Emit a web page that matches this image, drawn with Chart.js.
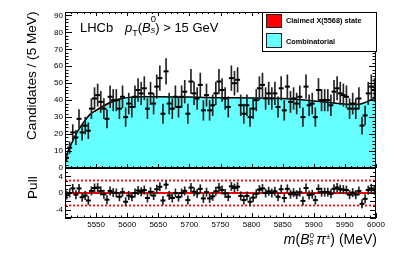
<!DOCTYPE html>
<html>
<head>
<meta charset="utf-8">
<script src="https://cdn.jsdelivr.net/npm/chart.js@4.4.1/dist/chart.umd.min.js"></script>
<style>
  html, body { margin: 0; padding: 0; background: #fff; }
  #wrap { position: relative; width: 399px; height: 257px; overflow: hidden;
          font-family: "Liberation Sans", Arial, sans-serif; color: #000; }
  canvas { position: absolute; left: 0; }
  #topChart { top: 0; }
  #pullChart { top: 160px; }
  .txt { position: absolute; white-space: nowrap; line-height: 1; }
  .rot { transform-origin: 0 0; transform: rotate(-90deg); font-size: 13.6px; }
  .z0 { display: inline-block; width: 0; position: relative; }
  #legend { position: absolute; left: 262px; top: 12px; width: 115px; height: 40px;
            box-sizing: border-box; border: 1px solid #000; background: #fff; }
  #legend .sw { position: absolute; left: 3px; width: 16px; box-sizing: border-box; border: 1px solid #222; }
  #legend .lt { position: absolute; left: 23px; font-size: 7.3px; font-weight: bold; line-height: 1; white-space: nowrap; }
</style>
</head>
<body>
<div id="wrap">
  <canvas id="topChart" width="399" height="175"></canvas>
  <canvas id="pullChart" width="399" height="97"></canvas>

  <div class="txt rot" style="left:25px; top:140px;">Candidates / (5 MeV)</div>
  <div class="txt rot" style="left:26px; top:199px;">Pull</div>

  <div class="txt" style="left:80px; top:20.7px; font-size:13px;">LHCb</div>
  <div class="txt" style="left:125px; top:20.7px; font-size:13px;"><i>p</i><span style="font-size:9px; position:relative; top:4px;">T</span>(<i>B</i><span class="z0" style="font-size:9.5px; top:-10px;">0</span><span style="font-size:9px; position:relative; top:1.5px;"><i>s</i></span>) &gt; 15 GeV</div>

  <div class="txt" style="right:22px; top:232.2px; font-size:14px;"><i>m</i>(<i>B</i><span class="z0" style="font-size:8px; top:-6px;">0</span><span style="font-size:8.5px; position:relative; top:1px;"><i>s</i></span>&#8201;<i>&#960;</i><span style="font-size:8px; position:relative; top:-5px;">&#177;</span>) (MeV)</div>

  <div id="legend">
    <div class="sw" style="top:1px; height:14px; background:#ff0000;"></div>
    <div class="lt" style="top:4.4px;">Claimed X(5568) state</div>
    <div class="sw" style="top:20px; height:15px; background:#66ffff;"></div>
    <div class="lt" style="top:24.9px;">Combinatorial</div>
  </div>
</div>

<script>
// --------- Data ---------
// Candidates per 5 MeV bin, 5500-6000 MeV (100 bins)
const counts = [
  6, 12, 21, 18, 29, 21, 25, 22, 35, 41,
  43, 39, 35, 29, 42, 40, 40, 35, 42, 30,
  38, 36, 42, 46, 44, 47, 35, 44, 38, 48,
  53, 32, 57, 38, 35, 42, 36, 42, 45, 32,
  51, 44, 41, 49, 34, 43, 34, 37, 44, 51,
  46, 41, 36, 53, 50, 52, 37, 32, 37, 30,
  35, 40, 47, 49, 41, 44, 41, 44, 36, 47,
  34, 48, 39, 41, 38, 42, 30, 48, 37, 38,
  30, 46, 40, 40, 40, 37, 45, 47, 44, 43,
  42, 35, 38, 35, 41, 25, 31, 44, 48, 46
];

// Pull per bin (lower panel)
const pulls = [
  -0.5, 0.0, 1.1, -0.4, 1.1, -1.0, -0.6, -1.8, 0.5, 1.2,
  1.3, 0.5, -0.3, -1.6, 0.5, 0.1, 0.0, -0.9, 0.2, -2.1,
  -0.6, -0.9, 0.0, 0.6, 0.3, 0.7, -1.2, 0.3, -0.6, 0.9,
  1.5, -1.8, 2.0, -0.6, -1.2, 0.0, -1.0, 0.0, 0.5, -1.7,
  1.3, 0.3, -0.1, 1.0, -1.3, 0.2, -1.3, -0.8, 0.4, 1.3,
  0.7, -0.1, -0.9, 1.6, 1.2, 1.5, -0.7, -1.7, -0.7, -2.1,
  -1.1, -0.2, 0.8, 1.1, 0.0, 0.4, 0.0, 0.4, -0.9, 0.9,
  -1.2, 1.0, -0.3, 0.1, -0.4, 0.2, -1.9, 1.2, -0.5, -0.3,
  -1.7, 1.0, 0.2, 0.2, 0.2, -0.2, 1.0, 1.3, 0.9, 0.8,
  0.7, -0.4, 0.1, -0.4, 0.5, -2.6, -1.4, 0.7, 1.1, 0.7
];

// Fit curves: total (signal + combinatorial) and combinatorial only
const fitX  = [5500, 5505, 5510, 5515, 5520, 5530, 5540, 5550, 5560, 5570, 5580, 5590, 5600, 5620,
               5650, 5700, 5750, 5800, 5850, 5880, 5900, 5920, 5940, 5960, 5975, 5985, 5995, 6000];
const fitY  = [4.5, 10, 14, 18, 21.5, 27, 31.5, 34, 36.3, 38.2, 39.7, 40.8, 41.5, 42,
               42, 41.8, 41.5, 41.3, 41, 40.3, 39.5, 38.8, 38, 37.5, 37.7, 39, 40.8, 41.6];
const combY = [4.5, 10, 14, 18, 21.5, 27, 31.3, 33.4, 35.4, 37.4, 39.2, 40.6, 41.5, 42,
               42, 41.8, 41.5, 41.3, 41, 40.3, 39.5, 38.8, 38, 37.5, 37.7, 39, 40.8, 41.6];

const pullRefLines = [-3, 3];
const yTicks = [0, 10, 20, 30, 40, 50, 60, 70, 80, 90];
const pullTicks = [-4, -2, 0, 2, 4];
const xTicks = [5550, 5600, 5650, 5700, 5750, 5800, 5850, 5900, 5950, 6000];

// Histogram binning: 5 MeV bins starting at 5500 MeV
const massBins = counts.map((_, i) => 5502.5 + 5 * i);

const FONT = "'Liberation Sans', Arial, sans-serif";

// --------- Frame + inward ROOT-style ticks ---------
const frameTicks = {
  id: "frameTicks",
  afterDatasetsDraw(chart, args, o) {
    const { ctx, chartArea: a } = chart;
    const x = chart.scales.x;
    const y = chart.scales.y;
    ctx.save();
    ctx.strokeStyle = "#000";
    ctx.lineWidth = 1;
    ctx.beginPath();

    const ry = Math.round(o.yMajor / o.yMinor);
    for (let k = Math.ceil(y.min / o.yMinor); k * o.yMinor <= y.max + 1e-9; k++) {
      const len = k % ry === 0 ? o.yMajLen : o.yMinLen;
      const py = Math.round(y.getPixelForValue(k * o.yMinor)) + 0.5;
      ctx.moveTo(a.left, py); ctx.lineTo(a.left + len, py);
      ctx.moveTo(a.right, py); ctx.lineTo(a.right - len, py);
    }

    const rx = Math.round(o.xMajor / o.xMinor);
    for (let k = Math.ceil(x.min / o.xMinor); k * o.xMinor <= x.max + 1e-9; k++) {
      const len = k % rx === 0 ? o.xMajLen : o.xMinLen;
      const px = Math.round(x.getPixelForValue(k * o.xMinor)) + 0.5;
      ctx.moveTo(px, a.bottom); ctx.lineTo(px, a.bottom - len);
      if (o.xTop) { ctx.moveTo(px, a.top); ctx.lineTo(px, a.top + len); }
    }
    ctx.stroke();

    ctx.strokeRect(a.left + 0.5, a.top + 0.5, a.right - a.left - 1, a.bottom - a.top - 1);
    ctx.restore();
  }
};

// --------- Top panel ---------
new Chart(document.getElementById("topChart"), {
  type: "line",
  data: {
    datasets: [
      {
        type: "scatter",
        label: "Data",
        data: massBins.map((x, i) => ({ x, y: counts[i] })),
        pointStyle: "line",
        pointRadius: 2.5,
        borderColor: "#000",
        borderWidth: 2,
        order: 0
      },
      {
        type: "bar",
        label: "Uncertainty",
        // Poisson uncertainty on each bin content
        data: massBins.map((x, i) => ({ x, y: [counts[i] - Math.sqrt(counts[i]), counts[i] + Math.sqrt(counts[i])] })),
        backgroundColor: "#222",
        barThickness: 1,
        grouped: false,
        borderWidth: 0,
        order: 1
      },
      {
        type: "line",
        label: "Total fit",
        data: fitX.map((x, i) => ({ x, y: fitY[i] })),
        borderColor: "#000",
        borderWidth: 1.5,
        pointRadius: 0,
        fill: false,
        cubicInterpolationMode: "monotone",
        order: 2
      },
      {
        type: "line",
        label: "Claimed X(5568) state",
        data: fitX.map((x, i) => ({ x, y: fitY[i] })),
        borderWidth: 0,
        pointRadius: 0,
        backgroundColor: "#ff0000",
        fill: "+1",
        cubicInterpolationMode: "monotone",
        order: 3
      },
      {
        type: "line",
        label: "Combinatorial",
        data: fitX.map((x, i) => ({ x, y: combY[i] })),
        borderWidth: 0,
        pointRadius: 0,
        backgroundColor: "#66ffff",
        fill: "origin",
        cubicInterpolationMode: "monotone",
        order: 4
      }
    ]
  },
  options: {
    responsive: false,
    animation: false,
    devicePixelRatio: 1,
    layout: { padding: { left: 0, right: 23, top: 12, bottom: 7 } },
    plugins: {
      legend: { display: false },
      tooltip: { enabled: false },
      frameTicks: { yMajor: 10, yMinor: 2, yMajLen: 7, yMinLen: 3.5, xMajor: 50, xMinor: 10, xMajLen: 4, xMinLen: 2, xTop: true }
    },
    scales: {
      x: { type: "linear", min: 5500, max: 6000, display: false, offset: false },
      y: {
        type: "linear",
        min: 0,
        max: 92,
        afterBuildTicks: (s) => { s.ticks = yTicks.map((v) => ({ value: v })); },
        afterFit: (s) => { s.width = 65; },
        grid: { display: false, drawTicks: false },
        border: { display: false },
        ticks: { padding: 2, color: "#000", font: { family: FONT, size: 8 }, callback: (v) => String(v) }
      }
    }
  },
  plugins: [frameTicks]
});

// --------- Pull panel ---------
new Chart(document.getElementById("pullChart"), {
  type: "line",
  data: {
    datasets: [
      {
        type: "scatter",
        label: "Pull",
        data: massBins.map((x, i) => ({ x, y: pulls[i] })),
        pointStyle: "line",
        pointRadius: 2.5,
        borderColor: "#000",
        borderWidth: 2,
        order: 0
      },
      {
        type: "bar",
        label: "Pull uncertainty",
        data: massBins.map((x, i) => ({ x, y: [pulls[i] - 1, pulls[i] + 1] })),
        backgroundColor: "#222",
        barThickness: 1,
        grouped: false,
        borderWidth: 0,
        order: 1
      },
      {
        type: "line",
        label: "Zero",
        data: [{ x: 5500, y: 0 }, { x: 6000, y: 0 }],
        borderColor: "#ff0000",
        borderWidth: 2,
        pointRadius: 0,
        order: 2
      },
      ...pullRefLines.map((v) => ({
        type: "line",
        label: "Band " + v,
        data: [{ x: 5500, y: v }, { x: 6000, y: v }],
        borderColor: "#ff0000",
        borderWidth: 1.8,
        borderDash: [2, 2],
        pointRadius: 0,
        order: 2
      }))
    ]
  },
  options: {
    responsive: false,
    animation: false,
    devicePixelRatio: 1,
    layout: { padding: { left: 0, right: 23, top: 8, bottom: 25 } },
    plugins: {
      legend: { display: false },
      tooltip: { enabled: false },
      frameTicks: { yMajor: 2, yMinor: 1, yMajLen: 6, yMinLen: 3, xMajor: 50, xMinor: 10, xMajLen: 5, xMinLen: 2.5, xTop: false }
    },
    scales: {
      x: {
        type: "linear",
        min: 5500,
        max: 6000,
        offset: false,
        afterBuildTicks: (s) => { s.ticks = xTicks.map((v) => ({ value: v })); },
        afterFit: (s) => { s.height = 14; },
        grid: { display: false, drawTicks: false },
        border: { display: false },
        ticks: { padding: 2, color: "#000", maxRotation: 0, font: { family: FONT, size: 8 }, callback: (v) => String(v) }
      },
      y: {
        type: "linear",
        min: -6,
        max: 6,
        afterBuildTicks: (s) => { s.ticks = pullTicks.map((v) => ({ value: v })); },
        afterFit: (s) => { s.width = 65; },
        grid: { display: false, drawTicks: false },
        border: { display: false },
        ticks: { padding: 2, color: "#000", font: { family: FONT, size: 8 }, callback: (v) => String(v) }
      }
    }
  },
  plugins: [frameTicks]
});
</script>
</body>
</html>
